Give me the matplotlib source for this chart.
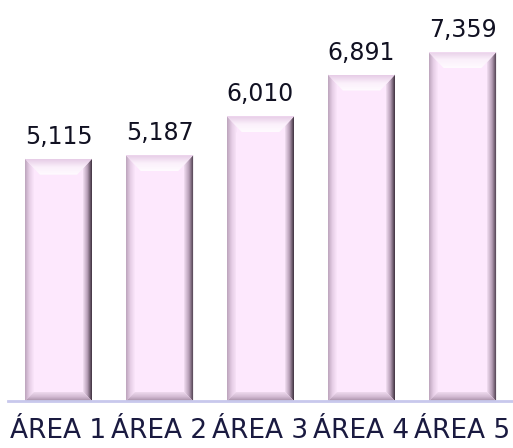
import matplotlib
matplotlib.use("Agg")
import matplotlib.pyplot as plt
import numpy as np
from matplotlib.patches import Polygon
from matplotlib.colors import LinearSegmentedColormap

categories = ['ÁREA 1', 'ÁREA 2', 'ÁREA 3', 'ÁREA 4', 'ÁREA 5']
values = [5115, 5187, 6010, 6891, 7359]
value_labels = ['5,115', '5,187', '6,010', '6,891', '7,359']

W, H = 513, 448
fig = plt.figure(figsize=(W / 100, H / 100), dpi=100)
ax = fig.add_axes([8 / W, (H - 401) / H, 505 / W, 379 / H])
ax.set_xlim(-0.5, 4.5)
ax.set_ylim(0, 8000)
ax.set_autoscale_on(False)

face = '#fde8fd'
bars = ax.bar(range(len(values)), values, width=0.665, color=face, zorder=2)

# pixel -> data conversion
bbox = ax.get_position()
px_x = (ax.get_xlim()[1] - ax.get_xlim()[0]) / (bbox.width * W)
px_y = (ax.get_ylim()[1] - ax.get_ylim()[0]) / (bbox.height * H)
dxs = 9 * px_x      # side bevel width
dxt = 15 * px_x     # top-corner inset
dyt = 16 * px_y     # top bevel height
dyb = 9 * px_y      # bottom bevel height


def grad(poly_pts, extent, colors, horizontal, z):
    poly = Polygon(poly_pts, closed=True, facecolor='none', edgecolor='none')
    ax.add_patch(poly)
    cmap = LinearSegmentedColormap.from_list('g', colors)
    g = np.linspace(0, 1, 64)
    arr = g[None, :] if horizontal else g[:, None]
    im = ax.imshow(arr, extent=extent, cmap=cmap, aspect='auto',
                   origin='lower', interpolation='bilinear', zorder=z)
    im.set_clip_path(poly)


for i, b in enumerate(bars):
    x0 = b.get_x()
    x1 = x0 + b.get_width()
    h = b.get_height()
    # left bevel
    grad([(x0, 0), (x0, h), (x0 + dxt, h - dyt), (x0 + dxs, h - dyt), (x0 + dxs, dyb)],
         (x0, x0 + dxs, 0, h), ['#bca4bc', '#e6cee6', '#fbe6fb'], True, 3)
    # right bevel
    grad([(x1, 0), (x1, h), (x1 - dxt, h - dyt), (x1 - dxs, h - dyt), (x1 - dxs, dyb)],
         (x1 - dxs, x1, 0, h), ['#f2def2', '#b69eb6', '#3e303e'], True, 3)
    # bottom bevel
    grad([(x0, 0), (x1, 0), (x1 - dxs, dyb), (x0 + dxs, dyb)],
         (x0, x1, 0, dyb), ['#a68ea6', '#d4bcd4', '#eedaee'], False, 4)
    # top bevel
    grad([(x0, h), (x1, h), (x1 - dxt, h - dyt), (x0 + dxt, h - dyt)],
         (x0, x1, h - dyt, h), ['#fffbff', '#fbf0fb', '#e6cce6'], False, 4)
    ax.annotate(value_labels[i], (b.get_x() + b.get_width() / 2, h),
                xytext=(0, 10), textcoords='offset pixels', ha='center', va='bottom',
                fontsize=17, color='#111122', family='DejaVu Sans')

ax.set_xticks(range(len(categories)))
ax.set_xticklabels(categories, fontsize=19, color='#1a1a40', family='DejaVu Sans')
ax.tick_params(axis='x', length=0, pad=12)
ax.set_yticks([])
for s in ['top', 'right', 'left']:
    ax.spines[s].set_visible(False)
ax.spines['bottom'].set_color('#c8c8ec')
ax.spines['bottom'].set_linewidth(2)
ax.spines['bottom'].set_zorder(5)

fig.savefig('out.png', dpi=100)
